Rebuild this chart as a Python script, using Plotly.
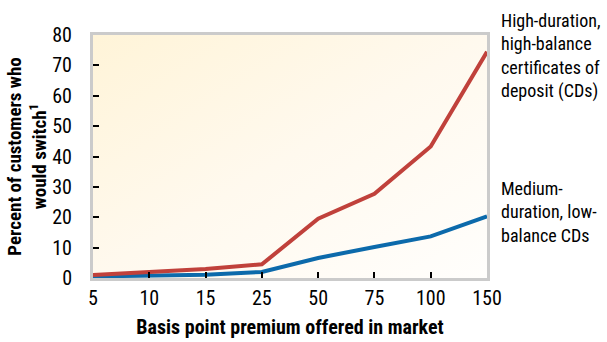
import base64
import plotly.graph_objects as go

categories = ["5", "10", "15", "25", "50", "75", "100", "150"]
high_duration = [1, 2, 3, 4.5, 19.5, 27.7, 43.3, 74.5]
medium_duration = [0.5, 0.8, 1.1, 2, 6.6, 10.2, 13.7, 20.3]
y_ticks = [0, 10, 20, 30, 40, 50, 60, 70, 80]

FONT = "Liberation Sans Narrow, Roboto Condensed, Arial Narrow, Liberation Sans, sans-serif"

svg = ('<svg xmlns="http://www.w3.org/2000/svg" width="400" height="250" preserveAspectRatio="none">'
       '<defs><linearGradient id="g" x1="0" y1="0" x2="1" y2="1">'
       '<stop offset="0" stop-color="#fff4d8"/>'
       '<stop offset="0.5" stop-color="#fff9ee"/>'
       '<stop offset="1" stop-color="#fffefc"/>'
       '</linearGradient></defs>'
       '<rect width="400" height="250" fill="url(#g)"/></svg>')
src = "data:image/svg+xml;base64," + base64.b64encode(svg.encode()).decode()

fig = go.Figure()
fig.add_trace(go.Scatter(x=categories, y=medium_duration, mode="lines",
                         line=dict(color="#0c6aab", width=4), showlegend=False))
fig.add_trace(go.Scatter(x=categories, y=high_duration, mode="lines",
                         line=dict(color="#c0413b", width=4), showlegend=False))

fig.add_layout_image(dict(source=src, xref="paper", yref="paper", x=0, y=1,
                          sizex=1, sizey=1, sizing="stretch", xanchor="left",
                          yanchor="top", layer="below"))

fig.update_layout(
    width=607, height=342,
    margin=dict(l=93, r=120, t=35, b=64),
    paper_bgcolor="white", plot_bgcolor="rgba(0,0,0,0)",
    font=dict(family=FONT, size=18, color="black"),
    xaxis=dict(type="category", range=[0, 7], showgrid=False, zeroline=False,
               showline=True, linecolor="#cbcbcb", linewidth=3, mirror=True,
               ticks="inside", ticklen=6, tickcolor="black", tickwidth=1.5,
               tickfont=dict(size=20), automargin=False,
               title=dict(text="<b>Basis point premium offered in market</b>",
                          font=dict(size=20), standoff=11)),
    yaxis=dict(range=[0, 80], tickvals=y_ticks, showgrid=False, zeroline=False,
               showline=True, linecolor="#cbcbcb", linewidth=3, mirror=True,
               ticks="inside", ticklen=6, tickcolor="black", tickwidth=1.5,
               tickfont=dict(size=20), ticklabelstandoff=14, automargin=False,
               title=dict(text="<b>Percent of customers who<br>would switch<sup>1</sup></b>",
                          font=dict(size=19), standoff=1)),
)

fig.add_annotation(xref="paper", yref="paper", x=1.03, y=1.11, xanchor="left", yanchor="top",
                   align="left", showarrow=False, font=dict(size=18),
                   text="High-duration,<br>high-balance<br>certificates of<br>deposit (CDs)")
fig.add_annotation(xref="paper", yref="paper", x=1.03, y=0.42, xanchor="left", yanchor="top",
                   align="left", showarrow=False, font=dict(size=18),
                   text="Medium-<br>duration, low-<br>balance CDs")

fig.write_html("out.html")
